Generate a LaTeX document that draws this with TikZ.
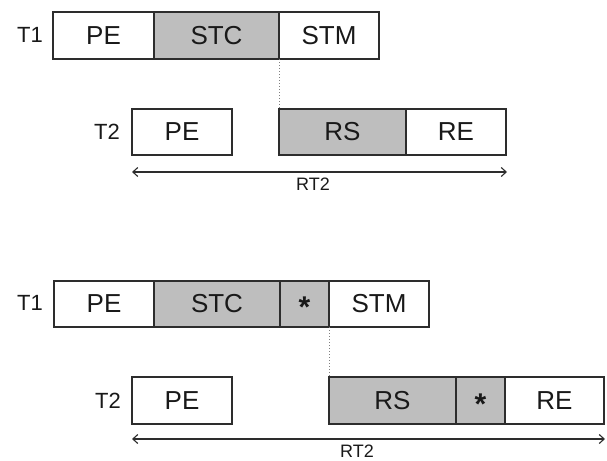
\documentclass[tikz,border=0pt]{standalone}
\usepackage{fontspec}
\setmainfont{Liberation Sans}
\usetikzlibrary{arrows.meta}
\definecolor{cellgray}{RGB}{190,190,190}
\definecolor{edge}{RGB}{45,45,45}
\begin{document}
\begin{tikzpicture}[x=1pt,y=-1pt,
  cell/.style={draw=edge, line width=1.2pt, rectangle, inner sep=0pt, outer sep=0pt,
    font=\fontsize{26}{26}\selectfont, text=black!90},
  shaded/.style={cell, fill=cellgray},
  plain/.style={cell, fill=white},
  rowlabel/.style={font=\fontsize{22}{22}\selectfont, text=black!90},
  spanlabel/.style={font=\fontsize{18}{18}\selectfont, text=black!90},
  span/.style={draw=edge, line width=1.1pt, {Straight Barb[length=5pt,width=9pt]}-{Straight Barb[length=5pt,width=9pt]}},
  link/.style={draw=black!50, line width=1pt, dotted},
  star/.style={font=\fontsize{30}{30}\bfseries\selectfont, text=black!90}]
\useasboundingbox (0,0) rectangle (607,460);
% ---------- top diagram ----------
\node[rowlabel] (ta) at (30,35) {T1};
\node[plain, minimum width=101pt, minimum height=47pt] (tape) at (103.5,35.5) {PE};
\node[shaded, minimum width=125pt, minimum height=47pt] (tastc) at (216.5,35.5) {STC};
\node[plain, minimum width=100pt, minimum height=47pt] (tastm) at (329,35.5) {STM};
\node[rowlabel] (tb) at (107,132) {T2};
\node[plain, minimum width=100pt, minimum height=46pt] (tbpe) at (182,132) {PE};
\node[shaded, minimum width=127pt, minimum height=46pt] (tbrs) at (342.5,132) {RS};
\node[plain, minimum width=100pt, minimum height=46pt] (tbre) at (456,132) {RE};
\draw[link] (tastc.south east) -- (tbrs.north west);
\coordinate (tl) at (132,172);
\coordinate (tr) at (507,172);
\draw[span] (tl) -- (tr);
\node[spanlabel] (trt) at (313,184) {RT2};
% ---------- bottom diagram ----------
\node[rowlabel] (ba) at (30,303) {T1};
\node[plain, minimum width=100pt, minimum height=46pt] (bape) at (104,304) {PE};
\node[shaded, minimum width=126pt, minimum height=46pt] (bastc) at (217,304) {STC};
\node[shaded, minimum width=49pt, minimum height=46pt] (bastar) at (304.5,304) {};
\node[star] (bastartxt) at (304.5,307.5) {*};
\node[plain, minimum width=100pt, minimum height=46pt] (bastm) at (379,304) {STM};
\node[rowlabel] (bb) at (108,401) {T2};
\node[plain, minimum width=100pt, minimum height=47pt] (bbpe) at (182,400.5) {PE};
\node[shaded, minimum width=127pt, minimum height=47pt] (bbrs) at (392.5,400.5) {RS};
\node[shaded, minimum width=49pt, minimum height=47pt] (bbstar) at (480.5,400.5) {};
\node[star] (bbstartxt) at (480.5,404) {*};
\node[plain, minimum width=99pt, minimum height=47pt] (bbre) at (554.5,400.5) {RE};
\draw[link] (bastar.south east) -- (bbrs.north west);
\coordinate (bl) at (132,439);
\coordinate (br) at (605,439);
\draw[span] (bl) -- (br);
\node[spanlabel] (brt) at (357,451) {RT2};
\end{tikzpicture}
\end{document}
